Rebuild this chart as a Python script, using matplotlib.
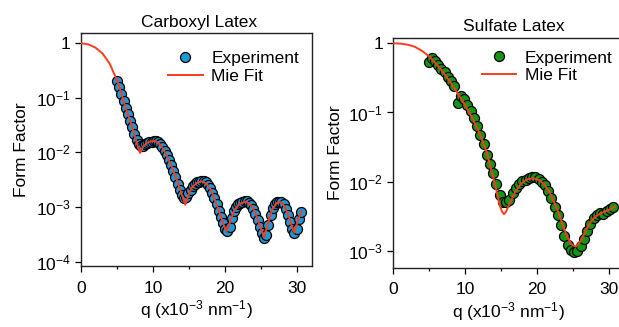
import matplotlib
matplotlib.use("Agg")
import matplotlib.pyplot as plt
from matplotlib.ticker import FixedLocator, FixedFormatter, MultipleLocator, NullLocator

plt.rcParams['font.family'] = ['Liberation Sans', 'DejaVu Sans']
plt.rcParams['mathtext.fontset'] = 'custom'
plt.rcParams['mathtext.rm'] = 'Liberation Sans'
plt.rcParams['mathtext.it'] = 'Liberation Sans:italic'
plt.rcParams['mathtext.default'] = 'regular'
FS = 12.5
plt.rcParams['font.size'] = FS

# ---- Carboxyl latex ----
carboxyl_q = [5.0, 5.3, 5.6, 5.9, 6.2, 6.5, 6.8, 7.1, 7.4, 7.7, 8.0, 8.3, 8.6, 8.9, 9.2,
              9.5, 9.8, 10.1, 10.4, 10.7, 11.0, 11.3, 11.6, 11.9, 12.2, 12.5, 12.8, 13.1,
              13.4, 13.7, 14.0, 14.3, 14.6, 14.9, 15.2, 15.5, 15.8, 16.1, 16.4, 16.7,
              17.0, 17.3, 17.6, 17.9, 18.2, 18.5, 18.8, 19.1, 19.4, 19.7, 20.0, 20.3,
              20.6, 20.9, 21.2, 21.5, 21.8, 22.1, 22.4, 22.7, 23.0, 23.3, 23.6, 23.9,
              24.2, 24.5, 24.8, 25.1, 25.4, 25.7, 26.0, 26.3, 26.6, 26.9, 27.2, 27.5,
              27.8, 28.1, 28.4, 28.7, 29.0, 29.3, 29.6, 29.9, 30.2, 30.5]
carboxyl_ff = [0.200, 0.158, 0.117, 0.0871, 0.0661, 0.0501, 0.0380, 0.0288, 0.0219,
               0.0170, 0.0141, 0.0129, 0.0132, 0.0141, 0.0151, 0.0155, 0.0158, 0.0162,
               0.0162, 0.0155, 0.0145, 0.0126, 0.0107, 0.00891, 0.00724, 0.00589,
               0.00457, 0.00347, 0.00263, 0.00204, 0.00166, 0.00145, 0.00151, 0.00178,
               0.00209, 0.00240, 0.00263, 0.00282, 0.00288, 0.00295, 0.00295, 0.00282,
               0.00257, 0.00224, 0.00182, 0.00145, 0.00112, 0.000851, 0.000661,
               0.000501, 0.000398, 0.000363, 0.000437, 0.000617, 0.000832, 0.00100,
               0.00112, 0.00120, 0.00126, 0.00129, 0.00129, 0.00120, 0.00110, 0.000933,
               0.000759, 0.000575, 0.000437, 0.000331, 0.000275, 0.000302, 0.000468,
               0.000708, 0.000977, 0.00115, 0.00123, 0.00126, 0.00126, 0.00112,
               0.000933, 0.000724, 0.000537, 0.000398, 0.000331, 0.000398, 0.000603,
               0.000794]

carboxyl_fit_q = [0, 1, 2, 3, 4, 5, 5.5, 6, 6.5, 7, 7.5, 7.9, 8.2, 8.5, 9.0, 9.5, 10.3,
                  11.0, 11.5, 12.0, 12.5, 13.0, 13.5, 14.0, 14.45, 14.8, 15.3, 16.0, 16.7,
                  17.3, 18.0, 18.6, 19.2, 19.8, 20.2, 20.6, 21.2, 21.9, 22.9, 23.7, 24.3,
                  24.9, 25.4, 25.9, 26.5, 27.1, 27.7, 28.3, 28.9, 29.4, 29.6, 30.0, 30.56]
carboxyl_fit_ff = [1.0, 0.955, 0.832, 0.646, 0.417, 0.209, 0.135, 0.0794, 0.0501, 0.0316,
                   0.0191, 0.0126, 0.00977, 0.0120, 0.0145, 0.0158, 0.0162, 0.0138, 0.0110,
                   0.00813, 0.00575, 0.00398, 0.00263, 0.00166, 0.00110, 0.00151, 0.00219,
                   0.00275, 0.00295, 0.00275, 0.00209, 0.00132, 0.000794, 0.000468,
                   0.000355, 0.000501, 0.000832, 0.00112, 0.00126, 0.00105, 0.000708,
                   0.000417, 0.000282, 0.000479, 0.000891, 0.00117, 0.00123, 0.00100,
                   0.000631, 0.000380, 0.000339, 0.000525, 0.000832]

# ---- Sulfate latex ----
sulfate_q = [4.9, 5.35, 5.8, 6.25, 6.7, 7.15, 7.6, 8.05, 8.5, 8.95, 9.4, 9.85, 10.3,
             10.75, 11.2, 11.65, 12.1, 12.55, 13.0, 13.45, 13.9, 14.35, 14.8, 15.25,
             15.7, 16.15, 16.6, 17.05, 17.5, 17.95, 18.4, 18.85, 19.3, 19.75, 20.2,
             20.65, 21.1, 21.55, 22.0, 22.45, 22.9, 23.35, 23.8, 24.25, 24.7, 25.15,
             25.6, 26.05, 26.5, 26.95, 27.4, 27.85, 28.3, 28.75, 29.2, 29.65, 30.1, 30.55]
sulfate_ff = [0.537, 0.617, 0.562, 0.490, 0.427, 0.380, 0.331, 0.282, 0.240, 0.138,
              0.174, 0.155, 0.129, 0.105, 0.0832, 0.0646, 0.0468, 0.0347, 0.0245, 0.0178,
              0.0132, 0.00912, 0.00646, 0.00513, 0.00501, 0.00537, 0.00676, 0.00813,
              0.00933, 0.0102, 0.0107, 0.0112, 0.0115, 0.0115, 0.0110, 0.0100, 0.00891,
              0.00741, 0.00575, 0.00437, 0.00324, 0.00234, 0.00166, 0.00123, 0.00102,
              0.000955, 0.00100, 0.00117, 0.00148, 0.00195, 0.00245, 0.00295, 0.00331,
              0.00355, 0.00339, 0.00380, 0.00407, 0.00427]

sulfate_fit_q = [0, 1, 2, 3, 4, 5, 6, 7, 8, 9, 10, 11, 12, 13, 13.6, 14.2, 14.8, 15.1,
                 15.4, 15.7, 16.0, 16.5, 17.0, 17.7, 18.5, 19.4, 20.2, 21.0, 21.7, 22.4,
                 23.0, 23.6, 24.2, 24.8, 25.4, 25.9, 26.4, 27.0, 27.6, 28.3, 29.0, 29.7,
                 30.2, 30.8]
sulfate_fit_ff = [1.0, 0.989, 0.955, 0.891, 0.776, 0.646, 0.501, 0.372, 0.269, 0.186,
                  0.126, 0.0832, 0.0501, 0.0263, 0.0151, 0.00871, 0.00457, 0.00372,
                  0.00339, 0.00372, 0.00437, 0.00562, 0.00724, 0.00912, 0.0107, 0.0112,
                  0.0107, 0.00912, 0.00708, 0.00501, 0.00347, 0.00229, 0.00158, 0.00123,
                  0.00115, 0.00132, 0.00162, 0.00219, 0.00275, 0.00324, 0.00355, 0.00380,
                  0.00398, 0.00437]

panel_titles = ["Carboxyl Latex", "Sulfate Latex"]
y_ticks_left = [1, 1e-1, 1e-2, 1e-3, 1e-4]
y_labels_left = ["1", "$10^{-1}$", "$10^{-2}$", "$10^{-3}$", "$10^{-4}$"]
y_ticks_right = [1, 1e-1, 1e-2, 1e-3]
y_labels_right = ["1", "$10^{-1}$", "$10^{-2}$", "$10^{-3}$"]

W, H = 619, 327
fig = plt.figure(figsize=(W / 100, H / 100), dpi=100)

def px_axes(left, top, right, bottom):
    return fig.add_axes([left / W, 1 - bottom / H, (right - left) / W, (bottom - top) / H])

ax1 = px_axes(81, 33.3, 311.7, 266)
ax2 = px_axes(393.3, 37.7, 623.4, 267.7)

fit_color = '#ff3a1e'
panels = [
    (ax1, carboxyl_q, carboxyl_ff, carboxyl_fit_q, carboxyl_fit_ff, '#1e98d6',
     (8.3e-5, 1.52), y_ticks_left, y_labels_left, 0.511, (0.377, 0.925), -0.225),
    (ax2, sulfate_q, sulfate_ff, sulfate_fit_q, sulfate_fit_ff, '#149614',
     (5.7e-4, 1.205), y_ticks_right, y_labels_right, 0.525, (0.384, 0.945), -0.217),
]

for (ax, q, ff, fq, fff, mcol, ylim, yt, yl, tx, legpos, ylab_x), title in zip(panels, panel_titles):
    ax.plot(q, ff, linestyle='none', marker='o', markersize=7.2,
            markerfacecolor=mcol, markeredgecolor='black', markeredgewidth=0.9,
            label='Experiment', zorder=2)
    ax.plot(fq, fff, color=fit_color, linewidth=1.4, label='Mie Fit', zorder=3)
    ax.set_yscale('log')
    ax.set_xlim(0, 32)
    ax.set_ylim(*ylim)
    ax.yaxis.set_major_locator(FixedLocator(yt))
    ax.yaxis.set_major_formatter(FixedFormatter(yl))
    ax.yaxis.set_minor_locator(NullLocator())
    ax.xaxis.set_major_locator(MultipleLocator(10))
    ax.xaxis.set_minor_locator(MultipleLocator(5))
    ax.tick_params(axis='both', which='major', direction='out', length=4.5, width=0.9,
                   labelsize=FS, pad=3)
    ax.tick_params(axis='x', which='major', pad=6)
    ax.tick_params(axis='x', which='minor', direction='out', length=2.5, width=0.9)
    for sp in ax.spines.values():
        sp.set_linewidth(1.0)
        sp.set_color('#222222')
    t = ax.set_title(title, fontsize=FS, pad=4.5)
    t.set_x(tx)
    ax.set_ylabel('Form Factor', fontsize=FS)
    ax.yaxis.set_label_coords(ylab_x, 0.5)
    ax.set_xlabel(r'q (x10$^{-3}$ nm$^{-1}$)', fontsize=FS, labelpad=2)
    ax.legend(loc='upper left', bbox_to_anchor=legpos, frameon=False, fontsize=FS,
              borderpad=0, borderaxespad=0, handlelength=2.0, handletextpad=0.5,
              labelspacing=0.15, numpoints=1)

fig.savefig('out.png', dpi=100)
